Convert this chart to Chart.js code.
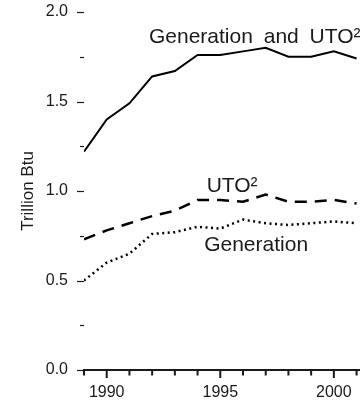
<!DOCTYPE html>
<html>
<head>
<meta charset="utf-8">
<script src="https://cdn.jsdelivr.net/npm/chart.js@4/dist/chart.umd.min.js"></script>
<style>
  html, body { margin: 0; padding: 0; background: #fff; overflow: hidden; }
  #wrap { width: 360px; height: 409px; overflow: hidden; }
</style>
</head>
<body>
<div id="wrap"><canvas id="grafico" width="402" height="409"></canvas></div>
<script>
// data
const years = [1989, 1990, 1991, 1992, 1993, 1994, 1995, 1996, 1997, 1998, 1999, 2000, 2001];
const total = [1.22, 1.40, 1.49, 1.64, 1.67, 1.76, 1.76, 1.78, 1.80, 1.75, 1.75, 1.78, 1.74];
const uto = [0.73, 0.78, 0.82, 0.86, 0.89, 0.95, 0.95, 0.94, 0.98, 0.94, 0.94, 0.95, 0.93];
const generation = [0.50, 0.60, 0.65, 0.76, 0.77, 0.80, 0.79, 0.84, 0.82, 0.81, 0.82, 0.83, 0.82];
const xLabels = [1990, 1995, 2000];
const yLabels = [0, 0.5, 1.0, 1.5, 2.0];
const seriesNames = ["Generation and UTO²", "UTO²", "Generation"];

const FONT = "'Liberation Sans', Arial, sans-serif";
const INK = "#1a1a1a";

function pts(vals) {
    return years.map((y, i) => ({ x: y, y: vals[i] }));
}

// text labels next to the lines, anchored in data units
const notes = [
    { text: seriesNames[0], x: 1991.86, y: 1.827 },
    { text: seriesNames[1], x: 1994.4, y: 0.994 },
    { text: seriesNames[2], x: 1994.29, y: 0.665 }
];

const extras = {
    id: "extras",
    afterDraw(chart) {
        const c = chart.ctx;
        const xs = chart.scales.x, ys = chart.scales.y;
        const area = chart.chartArea;
        c.save();
        c.strokeStyle = INK;
        // y ticks: long on labelled values, short between
        c.lineWidth = 1.2;
        ys.ticks.forEach(t => {
            const py = Math.round(ys.getPixelForValue(t.value)) + 0.5;
            const major = yLabels.some(v => Math.abs(v - t.value) < 1e-6);
            c.beginPath();
            c.moveTo(area.left - (major ? 7 : 4), py);
            c.lineTo(area.left, py);
            c.stroke();
        });
        // x ticks below the axis
        c.lineWidth = 2;
        xs.ticks.forEach(t => {
            const px = xs.getPixelForValue(t.value);
            const major = xLabels.includes(t.value);
            c.beginPath();
            c.moveTo(px, area.bottom);
            c.lineTo(px, area.bottom + (major ? 8 : 5.5));
            c.stroke();
        });
        // line labels, words set a little wider apart
        c.fillStyle = INK;
        c.font = "21px " + FONT;
        c.textBaseline = "alphabetic";
        c.textAlign = "left";
        const gap = c.measureText(" ").width + 5;
        notes.forEach(n => {
            let px = xs.getPixelForValue(n.x);
            const py = ys.getPixelForValue(n.y);
            n.text.split(" ").forEach(w => {
                c.fillText(w, px, py);
                px += c.measureText(w).width + gap;
            });
        });
        c.restore();
    }
};

const ctx = document.getElementById("grafico").getContext("2d");
const grafico = new Chart(ctx, {
    type: "line",
    data: {
        datasets: [{
            label: seriesNames[0],
            data: pts(total),
            borderColor: "#000",
            borderWidth: 2,
            pointRadius: 0,
            tension: 0
        }, {
            label: seriesNames[1],
            data: pts(uto),
            borderColor: "#000",
            borderWidth: 2.5,
            borderDash: [12, 8],
            pointRadius: 0,
            tension: 0
        }, {
            label: seriesNames[2],
            data: pts(generation),
            borderColor: "#000",
            borderWidth: 2.5,
            borderDash: [2, 3.5],
            pointRadius: 0,
            tension: 0
        }]
    },
    options: {
        responsive: false,
        animation: false,
        layout: { padding: { top: 12, left: 0, right: 0, bottom: 0 }, autoPadding: false },
        plugins: { legend: { display: false }, tooltip: { enabled: false } },
        scales: {
            x: {
                type: "linear",
                min: 1989,
                max: 2003,
                afterFit(s) { s.height = 39; },
                border: { display: true, color: INK, width: 2 },
                grid: { display: true, drawOnChartArea: false, drawTicks: true, tickLength: 13, tickColor: "rgba(0,0,0,0)" },
                ticks: {
                    stepSize: 1,
                    autoSkip: false,
                    maxRotation: 0,
                    padding: 0,
                    color: INK,
                    font: { family: FONT, size: 16 },
                    callback: v => xLabels.includes(v) ? String(v) : ""
                }
            },
            y: {
                min: 0,
                max: 2,
                afterFit(s) { s.width = 84; },
                border: { display: false },
                grid: { display: true, drawOnChartArea: false, drawTicks: true, tickLength: 16, tickColor: "rgba(0,0,0,0)" },
                title: {
                    display: true,
                    text: "Trillion Btu",
                    color: INK,
                    font: { family: FONT, size: 17 },
                    padding: { top: 18, bottom: 0 }
                },
                ticks: {
                    stepSize: 0.25,
                    autoSkip: false,
                    padding: 0,
                    color: INK,
                    font: { family: FONT, size: 16 },
                    callback: v => yLabels.some(l => Math.abs(l - v) < 1e-6) ? v.toFixed(1) : ""
                }
            }
        }
    },
    plugins: [extras]
});
</script>
</body>
</html>
